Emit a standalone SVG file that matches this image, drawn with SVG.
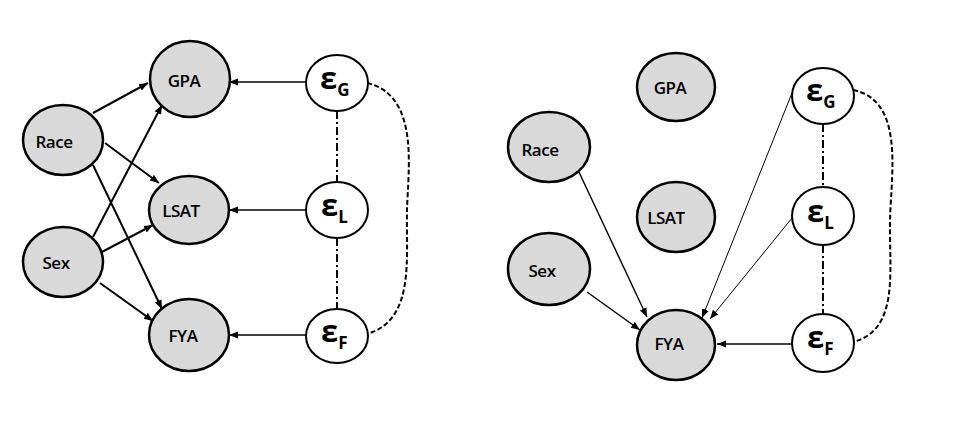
<svg xmlns="http://www.w3.org/2000/svg" width="979" height="433" viewBox="0 0 979 433">
<defs>
<style>
.obs{fill:#d9d9d9;stroke:#000;stroke-width:2.5}
.err{fill:#fff;stroke:#000;stroke-width:2}
.lbl{font-family:"Open Sans","Liberation Sans",sans-serif;font-weight:600;font-size:17px;letter-spacing:-0.5px;fill:#000;text-anchor:middle;dominant-baseline:central}
.eps{font-family:"Open Sans","Liberation Sans",sans-serif;font-weight:700;font-size:31px;fill:#000}
.sub{font-size:17px}
.e1{stroke:#000;stroke-width:2;fill:none;marker-end:url(#ah)}
.e2{stroke:#000;stroke-width:1.4;fill:none;marker-end:url(#ah)}
.e3{stroke:#000;stroke-width:1;fill:none;marker-end:url(#ah)}
.dd{stroke:#000;stroke-width:2;fill:none;stroke-dasharray:8 3 2 3}
.ds{stroke:#000;stroke-width:2;fill:none;stroke-dasharray:5 2.5}
</style>
<marker id="ah" viewBox="0 0 10 10" refX="10" refY="5" markerWidth="9" markerHeight="9" markerUnits="userSpaceOnUse" orient="auto">
<path d="M0,1 L10,5 L0,9 z" fill="#000"/>
</marker>
</defs>

<g id="connectors">
<!-- left -->
<line class="e1" x1="93" y1="113" x2="148" y2="83"/>
<line class="e1" x1="105" y1="143" x2="159" y2="183"/>
<line class="e1" x1="93" y1="165" x2="162" y2="309"/>
<line class="e1" x1="93" y1="237" x2="162" y2="105"/>
<line class="e1" x1="100" y1="253" x2="153" y2="225"/>
<line class="e1" x1="100" y1="283" x2="153" y2="321"/>
<line class="e2" x1="306" y1="82" x2="229" y2="82"/>
<line class="e2" x1="306" y1="210" x2="229" y2="210"/>
<line class="e2" x1="306" y1="335" x2="229" y2="335"/>
<line class="dd" x1="337" y1="111" x2="337" y2="182"/>
<line class="dd" x1="337" y1="238" x2="337" y2="309"/>
<path class="ds" d="M367,83 C420,95 408,170 407,210 C406,260 415,320 367,334"/>
<!-- right -->
<line class="e2" x1="578" y1="170" x2="647" y2="317"/>
<line class="e2" x1="587" y1="292" x2="640" y2="330"/>
<line class="e3" x1="792" y1="93" x2="702" y2="318"/>
<line class="e3" x1="792" y1="218" x2="710" y2="319"/>
<line class="e2" x1="793" y1="344" x2="717" y2="344"/>
<line class="dd" x1="823" y1="124" x2="823" y2="187"/>
<line class="dd" x1="823" y1="245" x2="823" y2="314"/>
<path class="ds" d="M853,90 C905,100 891,175 890,220 C889,270 900,330 853,342"/>
</g>

<g id="L-GPA"><ellipse class="obs" cx="190" cy="79" rx="40" ry="38"/><text class="lbl" x="184" y="80">GPA</text></g>
<g id="L-Race"><ellipse class="obs" cx="63" cy="140" rx="40" ry="35"/><text class="lbl" x="54" y="141">Race</text></g>
<g id="L-LSAT"><ellipse class="obs" cx="189" cy="210" rx="40" ry="34"/><text class="lbl" x="181" y="210">LSAT</text></g>
<g id="L-Sex"><ellipse class="obs" cx="63" cy="262" rx="40" ry="35"/><text class="lbl" x="56" y="262">Sex</text></g>
<g id="L-FYA"><ellipse class="obs" cx="189" cy="335" rx="40" ry="36"/><text class="lbl" x="183" y="335">FYA</text></g>
<g id="L-eG"><ellipse class="err" cx="337" cy="83" rx="31" ry="28"/><text class="eps" x="320" y="89">ε<tspan class="sub" dy="7">G</tspan></text></g>
<g id="L-eL"><ellipse class="err" cx="337" cy="210" rx="31" ry="28"/><text class="eps" x="321" y="216">ε<tspan class="sub" dy="7">L</tspan></text></g>
<g id="L-eF"><ellipse class="err" cx="337" cy="336" rx="31" ry="27"/><text class="eps" x="321" y="342">ε<tspan class="sub" dy="7">F</tspan></text></g>

<g id="R-GPA"><ellipse class="obs" cx="676" cy="87" rx="39" ry="34"/><text class="lbl" x="670" y="87">GPA</text></g>
<g id="R-Race"><ellipse class="obs" cx="549" cy="147" rx="41" ry="35"/><text class="lbl" x="540" y="149">Race</text></g>
<g id="R-LSAT"><ellipse class="obs" cx="676" cy="217" rx="39" ry="35"/><text class="lbl" x="666" y="217">LSAT</text></g>
<g id="R-Sex"><ellipse class="obs" cx="549" cy="269" rx="41" ry="36"/><text class="lbl" x="542" y="270">Sex</text></g>
<g id="R-FYA"><ellipse class="obs" cx="676" cy="345" rx="39" ry="35"/><text class="lbl" x="669" y="343">FYA</text></g>
<g id="R-eG"><ellipse class="err" cx="823" cy="96" rx="31" ry="28"/><text class="eps" x="806" y="101">ε<tspan class="sub" dy="7">G</tspan></text></g>
<g id="R-eL"><ellipse class="err" cx="823" cy="216" rx="31" ry="29"/><text class="eps" x="807" y="222">ε<tspan class="sub" dy="7">L</tspan></text></g>
<g id="R-eF"><ellipse class="err" cx="823" cy="343" rx="31" ry="29"/><text class="eps" x="807" y="348">ε<tspan class="sub" dy="7">F</tspan></text></g>
</svg>
